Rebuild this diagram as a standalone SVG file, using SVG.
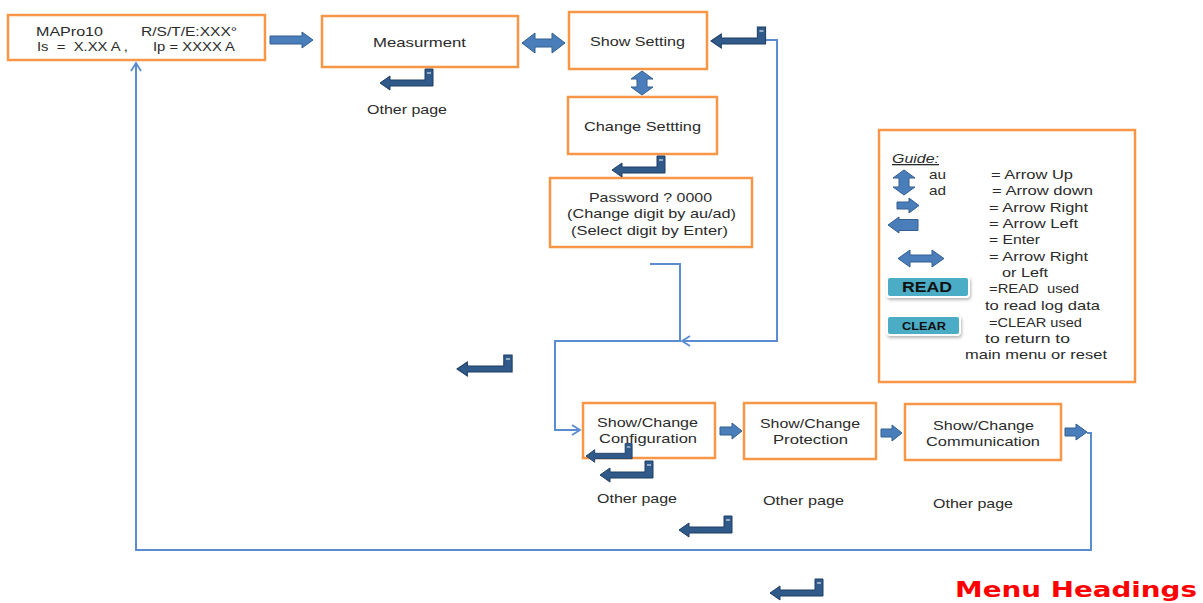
<svg xmlns="http://www.w3.org/2000/svg" xmlns:xlink="http://www.w3.org/1999/xlink" width="1203" height="603" viewBox="0 0 1203 603">
<style>
.box{fill:#fff;stroke:#F79646;stroke-width:2.5}
.t{font-family:"Liberation Sans","Open Sans",sans-serif;font-size:13px;fill:#2b2b2b}
.g{font-family:"Liberation Sans","Open Sans",sans-serif;font-size:13px;fill:#2b2b2b}
.fat{fill:#4A7EBB;stroke:#335F91;stroke-width:1}
.line{fill:none;stroke:#5B8CD0;stroke-width:2}
.btn{fill:#4BACC6;stroke:#fff;stroke-width:2}
.bt{font-family:"Liberation Sans","DejaVu Sans",sans-serif;font-weight:bold;fill:#111}
</style>
<defs>
<g id="enter">
<path d="M0,0 L10,-7 L10,-3 L45,-3 L45,-14 L53,-14 L53,3 L10,3 L10,7 Z" fill="#2F5A8A" stroke="#1F3D63" stroke-width="1"/>
<path d="M47,-10 H51" stroke="#fff" stroke-width="1"/>
</g>
<marker id="chev" markerWidth="12" markerHeight="12" refX="10" refY="6" orient="auto" markerUnits="userSpaceOnUse">
<path d="M2,1 L10,6 L2,11" fill="none" stroke="#5B8CD0" stroke-width="1.8"/>
</marker>
<filter id="sh" x="-20%" y="-40%" width="140%" height="180%">
<feDropShadow dx="1" dy="2" stdDeviation="1.5" flood-color="#888" flood-opacity="0.6"/>
</filter>
</defs>

<g id="node-mapro">
<rect class="box" x="8" y="15" width="257" height="45"/>
<text class="t" x="36" y="36" textLength="67" lengthAdjust="spacingAndGlyphs">MAPro10</text>
<text class="t" x="141" y="36" textLength="96" lengthAdjust="spacingAndGlyphs">R/S/T/E:XXX°</text>
<text class="t" x="37" y="51" textLength="91" lengthAdjust="spacingAndGlyphs" xml:space="preserve">Is  =  X.XX A ,</text>
<text class="t" x="153" y="51" textLength="82" lengthAdjust="spacingAndGlyphs">Ip = XXXX A</text>
</g>

<g id="node-measurment">
<rect class="box" x="322" y="16" width="196" height="51"/>
<text class="t" x="373" y="47" textLength="93" lengthAdjust="spacingAndGlyphs">Measurment</text>
</g>

<g id="node-show-setting">
<rect class="box" x="569" y="12" width="138" height="57"/>
<text class="t" x="590" y="46" textLength="95" lengthAdjust="spacingAndGlyphs">Show Setting</text>
</g>

<g id="node-change-setting">
<rect class="box" x="568" y="97" width="149" height="57"/>
<text class="t" x="584" y="131" textLength="117" lengthAdjust="spacingAndGlyphs">Change Settting</text>
</g>

<g id="node-password">
<rect class="box" x="550" y="178" width="202" height="69"/>
<text class="t" x="589" y="202" textLength="123" lengthAdjust="spacingAndGlyphs">Password ? 0000</text>
<text class="t" x="567" y="218" textLength="169" lengthAdjust="spacingAndGlyphs">(Change digit by au/ad)</text>
<text class="t" x="571" y="235" textLength="157" lengthAdjust="spacingAndGlyphs">(Select digit by Enter)</text>
</g>

<g id="node-configuration">
<rect class="box" x="583" y="403" width="132" height="55"/>
<text class="t" x="597" y="427" textLength="101" lengthAdjust="spacingAndGlyphs">Show/Change</text>
<text class="t" x="599" y="443" textLength="98" lengthAdjust="spacingAndGlyphs">Configuration</text>
</g>

<g id="node-protection">
<rect class="box" x="744" y="403" width="132" height="56"/>
<text class="t" x="760" y="428" textLength="100" lengthAdjust="spacingAndGlyphs">Show/Change</text>
<text class="t" x="773" y="444" textLength="75" lengthAdjust="spacingAndGlyphs">Protection</text>
</g>

<g id="node-communication">
<rect class="box" x="905" y="404" width="156" height="56"/>
<text class="t" x="933" y="430" textLength="101" lengthAdjust="spacingAndGlyphs">Show/Change</text>
<text class="t" x="926" y="446" textLength="114" lengthAdjust="spacingAndGlyphs">Communication</text>
</g>

<g id="labels">
<text class="t" x="367" y="114" textLength="80" lengthAdjust="spacingAndGlyphs">Other page</text>
<text class="t" x="597" y="503" textLength="80" lengthAdjust="spacingAndGlyphs">Other page</text>
<text class="t" x="763" y="505" textLength="81" lengthAdjust="spacingAndGlyphs">Other page</text>
<text class="t" x="933" y="508" textLength="80" lengthAdjust="spacingAndGlyphs">Other page</text>
<text x="955" y="597" font-family="'DejaVu Sans',Verdana,sans-serif" font-weight="bold" font-size="21" fill="#FF0000" textLength="242" lengthAdjust="spacingAndGlyphs">Menu Headings</text>
</g>

<g id="node-guide">
<rect class="box" x="879" y="130" width="256" height="252"/>
<text class="g" x="892" y="163" font-style="italic" text-decoration="underline" textLength="47" lengthAdjust="spacingAndGlyphs">Guide:</text>
<path class="fat" d="M904,170 L915,178 H909 V187 H915 L904,195 L893,187 H899 V178 H893 Z"/>
<text class="g" x="929" y="179" textLength="17" lengthAdjust="spacingAndGlyphs">au</text>
<text class="g" x="991" y="179" textLength="82" lengthAdjust="spacingAndGlyphs">= Arrow Up</text>
<text class="g" x="929" y="195" textLength="17" lengthAdjust="spacingAndGlyphs">ad</text>
<text class="g" x="992" y="195" textLength="101" lengthAdjust="spacingAndGlyphs">= Arrow down</text>
<path class="fat" d="M897,202 H909 V198 L919,205.5 L909,213 V209 H897 Z"/>
<text class="g" x="989" y="212" textLength="99" lengthAdjust="spacingAndGlyphs">= Arrow Right</text>
<path class="fat" d="M888,225 L899,217 V219.5 H918 V230.5 H899 V233 Z"/>
<text class="g" x="989" y="228" textLength="89" lengthAdjust="spacingAndGlyphs">= Arrow Left</text>
<text class="g" x="989" y="244" textLength="51" lengthAdjust="spacingAndGlyphs">= Enter</text>
<path class="fat" d="M898,258.5 L910,250 V255 H932 V250 L944,258.5 L932,267 V262 H910 V267 Z"/>
<text class="g" x="989" y="261" textLength="99" lengthAdjust="spacingAndGlyphs">= Arrow Right</text>
<text class="g" x="1002" y="277" textLength="46" lengthAdjust="spacingAndGlyphs">or Left</text>
<rect class="btn" x="887" y="277" width="82" height="20" rx="3" filter="url(#sh)"/>
<text class="bt" x="902" y="292" font-size="14" textLength="50" lengthAdjust="spacingAndGlyphs">READ</text>
<text class="g" x="989" y="293" textLength="90" lengthAdjust="spacingAndGlyphs" xml:space="preserve">=READ  used</text>
<text class="g" x="985" y="310" textLength="115" lengthAdjust="spacingAndGlyphs">to read log data</text>
<rect class="btn" x="887" y="316" width="73" height="19" rx="3" filter="url(#sh)"/>
<text class="bt" x="902" y="330" font-size="11" textLength="44" lengthAdjust="spacingAndGlyphs">CLEAR</text>
<text class="g" x="989" y="327" textLength="93" lengthAdjust="spacingAndGlyphs">=CLEAR used</text>
<text class="g" x="985" y="343" textLength="85" lengthAdjust="spacingAndGlyphs">to return to</text>
<text class="g" x="965" y="359" textLength="142" lengthAdjust="spacingAndGlyphs">main menu or reset</text>
</g>

<g id="connectors">
<path class="line" d="M745,40 H777 V341 H682" marker-end="url(#chev)"/>
<path class="line" d="M650,264 H680 V341 H555 V430 H580" marker-end="url(#chev)"/>
<path class="line" d="M1087,433 H1091 V550 H136 V63" marker-end="url(#chev)"/>
<path class="fat" d="M270,36 H302 V32 L313,40 L302,48 V44 H270 Z"/>
<path class="fat" d="M522,43 L535,33 V39 H552 V33 L565,43 L552,53 V47 H535 V53 Z"/>
<path class="fat" d="M642,71 L653,79 H647 V87 H653 L642,95 L631,87 H637 V79 H631 Z"/>
<path class="fat" d="M720,427 H732 V423 L742,431 L732,439 V435 H720 Z"/>
<path class="fat" d="M881,429 H892 V425 L902,433 L892,441 V437 H881 Z"/>
<path class="fat" d="M1065,428 H1076 V424 L1087,432 L1076,440 V436 H1065 Z"/>
<use xlink:href="#enter" transform="translate(380,83)"/>
<use xlink:href="#enter" transform="translate(711,41) scale(1.03,1)"/>
<use xlink:href="#enter" transform="translate(612,170)"/>
<use xlink:href="#enter" transform="translate(457,369) scale(1.04,1)"/>
<use xlink:href="#enter" transform="translate(586,456) scale(0.87,0.9)"/>
<use xlink:href="#enter" transform="translate(600,475)"/>
<use xlink:href="#enter" transform="translate(679,530)"/>
<use xlink:href="#enter" transform="translate(770,593)"/>
</g>
</svg>
